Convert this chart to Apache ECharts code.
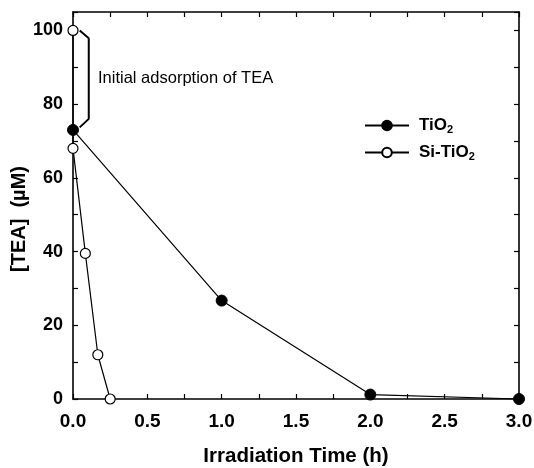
<!DOCTYPE html>
<html>
<head>
<meta charset="utf-8">
<script src="https://cdn.jsdelivr.net/npm/echarts@6/dist/echarts.min.js"></script>
<style>
  html, body { margin: 0; padding: 0; background: #fff; }
  #chart { width: 534px; height: 468px; }
</style>
</head>
<body>
<div id="chart"></div>
<script>
// TiO2 (filled circles)
const timeTiO2 = [0, 1, 2, 3];
const teaTiO2 = [73, 26.7, 1.2, 0];

// Si-TiO2 (open circles)
const timeSi = [0, 0, 0.083, 0.167, 0.25];
const teaSi = [100, 68, 39.5, 12, 0];

// bracket for "initial adsorption" (data coords)
const bracketX = [0.045, 0.106, 0.106, 0.045];
const bracketY = [100, 97.9, 76, 73.7];

const xTicks = [0, 0.5, 1, 1.5, 2, 2.5, 3];
const yTicks = [0, 20, 40, 60, 80, 100];

const font = "'Liberation Sans', Arial, Helvetica, sans-serif";

function zip(xs, ys) {
  return xs.map((x, i) => [x, ys[i]]);
}

const chart = echarts.init(document.getElementById('chart'));

const axisCommon = {
  axisLine: { show: true, onZero: false, lineStyle: { color: '#000', width: 1.6 } },
  axisTick: { show: true, inside: true, length: 5, lineStyle: { color: '#000', width: 1.2 } },
  minorTick: { show: true, splitNumber: 2, length: 5, lineStyle: { color: '#000', width: 1.2 } },
  splitLine: { show: false },
};

const option = {
  animation: false,
  grid: { left: 73, right: 15, top: 12, bottom: 69, containLabel: false, outerBoundsMode: 'none' },
  legend: {
    orient: 'vertical',
    left: 359,
    top: 112,
    itemWidth: 44,
    itemHeight: 12,
    itemGap: 9,
    data: ['TiO2', 'Si-TiO2'],
    formatter: name => name.replace('O2', 'O{sub|2}'),
    textStyle: {
      fontFamily: font,
      fontSize: 17,
      fontWeight: 'bold',
      color: '#000',
      padding: [0, 0, 0, 5],
      rich: {
        sub: { fontFamily: font, fontSize: 11, fontWeight: 'bold', color: '#000', verticalAlign: 'bottom', padding: [8, 0, 0, 0] }
      }
    }
  },
  xAxis: [
    Object.assign({}, axisCommon, {
      type: 'value',
      min: 0,
      max: 3,
      interval: 0.5,
      position: 'bottom',
      name: 'Irradiation Time (h)',
      nameLocation: 'middle',
      nameGap: 47,
      nameMoveOverlap: false,
      nameTextStyle: { fontFamily: font, fontSize: 20.5, fontWeight: 'bold', color: '#000' },
      axisLabel: {
        margin: 13,
        fontFamily: font, fontSize: 19, fontWeight: 'bold', color: '#000',
        formatter: v => xTicks.indexOf(v) >= 0 ? v.toFixed(1) : ''
      }
    }),
    Object.assign({}, axisCommon, {
      type: 'value',
      min: 0,
      max: 3,
      interval: 0.5,
      position: 'top',
      axisLabel: { show: false }
    })
  ],
  yAxis: [
    Object.assign({}, axisCommon, {
      type: 'value',
      min: 0,
      max: 105,
      interval: 20,
      position: 'left',
      name: '[TEA]  (\u00b5M)',
      nameLocation: 'middle',
      nameGap: 44,
      nameMoveOverlap: false,
      nameTextStyle: { fontFamily: font, fontSize: 20, fontWeight: 'bold', color: '#000', padding: [0, 27, 0, 0] },
      axisLabel: {
        margin: 10,
        showMaxLabel: false,
        fontFamily: font, fontSize: 18, fontWeight: 'bold', color: '#000',
        formatter: v => yTicks.indexOf(v) >= 0 ? String(v) : ''
      }
    }),
    Object.assign({}, axisCommon, {
      type: 'value',
      min: 0,
      max: 105,
      interval: 20,
      position: 'right',
      axisLabel: { show: false }
    })
  ],
  graphic: [
    {
      type: 'text',
      left: 98,
      top: 70,
      style: { text: 'Initial adsorption of TEA', font: '16.5px ' + font, fill: '#000' }
    }
  ],
  series: [
    {
      name: 'bracket',
      type: 'line',
      data: zip(bracketX, bracketY),
      symbol: 'none',
      clip: false,
      lineStyle: { color: '#000', width: 2 },
      z: 3
    },
    {
      name: 'Si-TiO2',
      type: 'line',
      data: zip(timeSi, teaSi),
      symbol: 'circle',
      symbolSize: 10,
      clip: false,
      lineStyle: { color: '#000', width: 1.2 },
      itemStyle: { color: '#fff', borderColor: '#000', borderWidth: 1.2 },
      z: 4
    },
    {
      name: 'TiO2',
      type: 'line',
      data: zip(timeTiO2, teaTiO2),
      symbol: 'circle',
      symbolSize: 11,
      clip: false,
      lineStyle: { color: '#000', width: 1.2 },
      itemStyle: { color: '#000', borderColor: '#000', borderWidth: 1 },
      z: 5
    }
  ]
};

chart.setOption(option);
</script>
</body>
</html>
